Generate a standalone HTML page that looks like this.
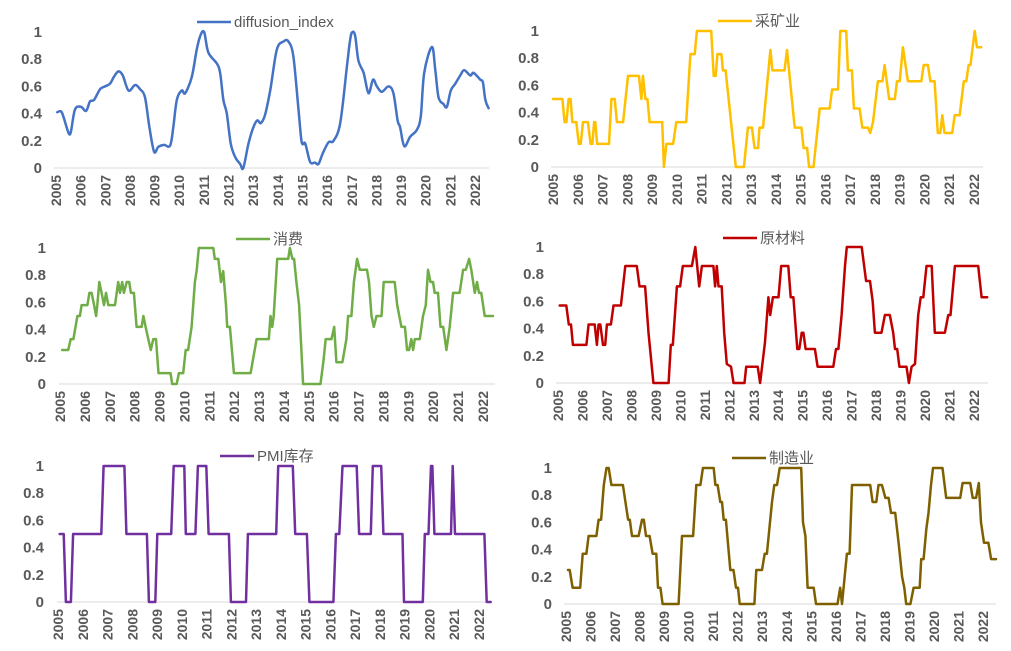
<!DOCTYPE html>
<html><head><meta charset="utf-8">
<style>
html,body{margin:0;padding:0;background:#fff;}
svg{display:block;font-family:"Liberation Sans","Noto Sans CJK SC",sans-serif;}
</style></head>
<body>
<svg id="root" width="1011" height="651" viewBox="0 0 1011 651"></svg>
<script>
// ===== data (time = years since 2005, value = index) =====
const yearTicks = [2005,2006,2007,2008,2009,2010,2011,2012,2013,2014,2015,2016,2017,2018,2019,2020,2021,2022];
const yTickValues = [0,0.2,0.4,0.6,0.8,1];
const yTickLabels = ["0","0.2","0.4","0.6","0.8","1"];
const seriesNames = ["diffusion_index","采矿业","消费","原材料","PMI库存","制造业"];

const diffT = [.05,.23,.43,.53,.61,.77,1.01,1.22,1.38,1.54,1.79,1.99,2.19,2.35,2.53,2.71,2.94,3.21,3.41,3.61,3.79,3.98,4.15,4.38,4.63,4.76,4.90,5.10,5.24,5.51,5.71,5.85,6.01,6.18,6.52,6.66,6.79,6.93,7.09,7.27,7.47,7.60,7.81,8.01,8.17,8.31,8.48,8.69,8.96,9.23,9.43,9.63,9.84,9.97,10.11,10.31,10.51,10.65,10.83,11.06,11.26,11.53,11.80,11.94,12.03,12.14,12.27,12.48,12.68,12.86,13.02,13.22,13.49,13.69,13.86,13.96,14.13,14.37,14.64,14.80,14.94,15.25,15.39,15.52,15.72,15.86,16.02,16.20,16.40,16.56,16.81,16.94,17.21,17.32,17.42,17.55];
const diffV = [.41,.41,.30,.25,.27,.43,.45,.42,.49,.50,.58,.60,.62,.67,.71,.68,.57,.61,.58,.52,.30,.12,.155,.17,.165,.30,.50,.57,.55,.67,.87,.97,1.0,.85,.77,.70,.50,.40,.18,.08,.03,0,.18,.30,.35,.33,.39,.57,.87,.93,.93,.82,.43,.19,.18,.045,.04,.03,.11,.19,.20,.33,.74,.95,1.0,.97,.79,.70,.55,.65,.60,.56,.60,.55,.35,.30,.16,.23,.28,.38,.70,.89,.72,.52,.47,.45,.57,.62,.68,.72,.68,.70,.65,.63,.50,.44];

const miningT = [0,.38,.47,.54,.63,.71,.78,.94,1.04,1.12,1.21,1.41,1.52,1.59,1.66,1.71,1.78,2.26,2.36,2.49,2.58,2.83,3.03,3.47,3.57,3.63,3.73,3.81,3.9,4.41,4.48,4.58,4.85,4.98,5.38,5.55,5.72,5.81,6.39,6.49,6.57,6.64,6.8,6.86,6.97,7.38,7.71,7.87,8.03,8.14,8.28,8.34,8.48,8.78,8.86,9.35,9.45,9.76,10.03,10.12,10.26,10.34,10.52,10.77,11.17,11.27,11.51,11.6,11.84,11.91,12.07,12.15,12.38,12.49,12.72,12.81,12.92,13.12,13.3,13.39,13.57,13.8,13.89,14.0,14.13,14.33,14.87,14.97,15.14,15.24,15.41,15.54,15.64,15.72,15.81,16.12,16.22,16.42,16.59,16.69,16.78,16.86,17.03,17.12,17.29];
const miningV = [.5,.5,.33,.33,.5,.5,.33,.33,.17,.17,.33,.33,.17,.17,.33,.33,.17,.17,.5,.5,.33,.33,.67,.67,.5,.67,.5,.5,.33,.33,0,.17,.17,.33,.33,.83,.83,1,1,.67,.67,.83,.83,.71,.71,0,0,.29,.29,.14,.14,.29,.29,.86,.71,.71,.86,.29,.29,.14,.14,0,0,.43,.43,.57,.57,1,1,.71,.71,.43,.43,.29,.29,.25,.33,.63,.63,.75,.5,.5,.63,.63,.88,.63,.63,.75,.75,.63,.63,.25,.25,.38,.25,.25,.38,.38,.63,.63,.75,.75,1,.88,.88];

const consT = [.09,.33,.43,.54,.70,.80,.87,1.10,1.18,1.27,1.37,1.45,1.50,1.58,1.67,1.77,1.85,1.94,2.21,2.34,2.41,2.50,2.57,2.68,2.78,2.85,2.97,3.08,3.28,3.35,3.44,3.55,3.65,3.75,3.86,3.96,4.44,4.51,4.69,4.78,4.95,5.05,5.15,5.29,5.42,5.49,5.58,6.16,6.22,6.36,6.47,6.56,6.67,6.72,6.83,6.99,7.66,7.90,8.39,8.46,8.53,8.59,8.73,9.17,9.24,9.34,9.41,9.50,9.61,9.77,10.47,10.58,10.68,10.91,11.02,11.11,11.35,11.51,11.58,11.71,11.81,11.94,12.05,12.34,12.42,12.52,12.61,12.72,12.92,13.01,13.45,13.55,13.72,13.86,13.95,14.03,14.12,14.19,14.26,14.46,14.59,14.70,14.79,14.89,14.99,15.06,15.19,15.29,15.40,15.53,15.66,15.80,16.06,16.20,16.31,16.44,16.53,16.67,16.76,16.84,16.93,17.07,17.40];
const consV = [.25,.25,.33,.33,.5,.5,.58,.58,.67,.67,.58,.5,.58,.75,.67,.58,.67,.58,.58,.75,.67,.75,.67,.75,.75,.67,.67,.42,.42,.5,.42,.33,.25,.33,.33,.08,.08,0,0,.08,.08,.25,.25,.42,.75,.83,1,1,.92,.92,.75,.83,.58,.42,.42,.08,.08,.33,.33,.5,.42,.5,.92,.92,1,.92,.92,.75,.58,0,0,.16,.33,.33,.42,.16,.16,.33,.5,.5,.75,.92,.84,.84,.75,.5,.42,.5,.5,.75,.75,.58,.42,.42,.25,.25,.33,.25,.33,.33,.5,.58,.84,.75,.75,.67,.67,.42,.42,.25,.42,.67,.67,.84,.84,.92,.84,.67,.75,.67,.67,.5,.5];

const rawT = [.07,.34,.44,.53,.61,1.16,1.25,1.50,1.59,1.66,1.73,1.84,1.93,2.00,2.16,2.27,2.57,2.75,3.22,3.33,3.56,3.70,3.90,4.52,4.61,4.69,4.86,4.99,5.10,5.47,5.61,5.77,5.88,6.35,6.42,6.49,6.56,6.69,6.79,6.90,7.07,7.17,7.62,7.69,8.16,8.26,8.46,8.60,8.67,8.78,9.01,9.12,9.41,9.51,9.62,9.78,9.86,9.96,10.03,10.12,10.50,10.61,11.25,11.36,11.46,11.59,11.73,11.80,12.41,12.59,12.75,12.86,12.95,13.22,13.36,13.56,13.70,13.77,13.86,13.95,14.24,14.34,14.45,14.59,14.72,14.82,14.93,15.06,15.27,15.40,15.81,15.95,16.04,16.22,17.17,17.31,17.54];
const rawV = [.57,.57,.43,.43,.28,.28,.43,.43,.28,.43,.43,.28,.28,.43,.43,.57,.57,.86,.86,.71,.71,.37,0,0,.28,.28,.71,.71,.86,.86,1,.71,.86,.86,.71,.86,.71,.71,.37,.14,.12,0,0,.12,.12,0,.3,.63,.5,.63,.63,.86,.86,.63,.63,.25,.25,.37,.37,.25,.25,.12,.12,.25,.25,.5,.86,1,1,.75,.75,.6,.37,.37,.5,.5,.37,.25,.25,.12,.12,0,.12,.14,.5,.63,.63,.86,.86,.37,.37,.5,.5,.86,.86,.63,.63];

const pmiT = [.07,.23,.32,.52,.61,1.75,1.84,2.68,2.76,3.59,3.67,3.93,4.01,4.57,4.67,5.10,5.16,5.55,5.65,5.99,6.08,6.90,6.98,7.59,7.67,8.81,8.89,9.48,9.58,10.05,10.15,11.12,11.22,11.36,11.49,12.06,12.16,12.63,12.71,13.05,13.14,13.91,13.97,14.73,14.81,14.96,15.06,15.12,15.20,15.87,15.94,16.03,17.22,17.31,17.47];
const pmiV = [.5,.5,0,0,.5,.5,1,1,.5,.5,0,0,.5,.5,1,1,.5,.5,1,1,.5,.5,0,0,.5,.5,1,1,.5,.5,0,0,.5,.5,1,1,.5,.5,1,1,.5,.5,0,0,.5,.5,1,1,.5,.5,1,.5,.5,0,0];

const mfgT = [.08,.15,.27,.58,.68,.83,.92,1.24,1.33,1.43,1.54,1.65,1.74,1.85,2.32,2.53,2.60,2.69,2.96,3.10,3.17,3.26,3.41,3.53,3.68,3.75,3.85,3.94,4.59,4.73,5.18,5.31,5.48,5.58,6.02,6.09,6.18,6.29,6.36,6.43,6.52,6.70,6.83,6.93,7.01,7.08,7.68,7.76,7.99,8.10,8.19,8.40,8.49,8.60,8.71,9.59,9.66,9.76,9.85,10.10,10.19,11.07,11.18,11.25,11.45,11.56,11.66,12.40,12.50,12.65,12.74,12.88,13.02,13.15,13.25,13.42,13.56,13.70,13.79,13.87,14.04,14.17,14.42,14.48,14.58,14.69,14.78,14.88,14.96,15.35,15.50,16.07,16.17,16.48,16.58,16.72,16.83,16.92,17.04,17.22,17.33,17.53];
const mfgV = [.25,.25,.12,.12,.37,.37,.5,.5,.62,.62,.875,1,1,.875,.875,.62,.62,.5,.5,.62,.62,.5,.5,.37,.37,.12,.12,0,0,.5,.5,.875,.875,1,1,.875,.875,.75,.75,.62,.62,.25,.25,.12,.12,0,0,.25,.25,.37,.37,.75,.875,.875,1,1,.6,.5,.12,.12,0,0,.12,0,.37,.37,.875,.875,.75,.75,.875,.875,.78,.78,.67,.67,.45,.2,.12,0,0,.12,.12,.33,.33,.55,.67,.875,1,1,.78,.78,.89,.89,.78,.78,.89,.6,.45,.45,.33,.33];

// ===== layout (not data) =====
const panels = [
 {name:"diffusion-index-panel",T:diffT,V:diffV,label:seriesNames[0],color:"#4472C4",x0:56,x1:475,yTop:32,yBot:168,ax0:54,ax1:489,lx:197,ly:22,smooth:true},
 {name:"mining-panel",T:miningT,V:miningV,label:seriesNames[1],color:"#FFC000",x0:553,x1:974,yTop:31,yBot:167,ax0:551,ax1:983,lx:718,ly:21},
 {name:"consumption-panel",T:consT,V:consV,label:seriesNames[2],color:"#70AD47",x0:60,x1:483,yTop:248,yBot:384,ax0:59,ax1:495,lx:236,ly:239},
 {name:"raw-materials-panel",T:rawT,V:rawV,label:seriesNames[3],color:"#C00000",x0:558,x1:974,yTop:247,yBot:383,ax0:556,ax1:988,lx:723,ly:238},
 {name:"pmi-inventory-panel",T:pmiT,V:pmiV,label:seriesNames[4],color:"#7030A0",x0:58,x1:479,yTop:466,yBot:602,ax0:57,ax1:492,lx:220,ly:456},
 {name:"manufacturing-panel",T:mfgT,V:mfgV,label:seriesNames[5],color:"#7F6000",x0:566,x1:983,yTop:468,yBot:604,ax0:564,ax1:996,lx:732,ly:458}
];
const NS="http://www.w3.org/2000/svg";
const root=document.getElementById('root');
function mk(tag,attrs,parent){const e=document.createElementNS(NS,tag);for(const k in attrs)e.setAttribute(k,attrs[k]);parent.appendChild(e);return e;}

panels.forEach(p=>{
  const g=mk('g',{},root);
  
  
  const xs=y=>p.x0+(y-2005)*(p.x1-p.x0)/17;
  const ys=v=>p.yBot-v*(p.yBot-p.yTop);
  const ax=mk('line',{x1:p.ax0,x2:p.ax1,y1:p.yBot,y2:p.yBot,stroke:"#d9d9d9","stroke-width":1},g);
  
  
  yTickValues.forEach((v,i)=>{
    const t=mk('text',{x:p.x0-14,y:ys(v)+5,"text-anchor":"end","font-size":15,"font-weight":"bold",fill:"#595959"},g);
    t.textContent=yTickLabels[i];
    
    
  });
  yearTicks.forEach(yr=>{
    const x=xs(yr);
    const t=mk('text',{x:0,y:0,"text-anchor":"end","font-size":14,"font-weight":"bold",fill:"#595959",transform:`translate(${x+5},${p.yBot+7}) rotate(-90)`},g);
    t.textContent=String(yr);
    
    
  });
  const pts=p.T.map((t,i)=>[xs(2005+t),ys(p.V[i])]);
  let d;
  if(p.smooth){
    d=`M${pts[0][0]},${pts[0][1]}`;
    for(let i=0;i<pts.length-1;i++){
      const p0=pts[Math.max(0,i-1)],p1=pts[i],p2=pts[i+1],p3=pts[Math.min(pts.length-1,i+2)];
      const c1=[p1[0]+(p2[0]-p0[0])/6,p1[1]+(p2[1]-p0[1])/6];
      const c2=[p2[0]-(p3[0]-p1[0])/6,p2[1]-(p3[1]-p1[1])/6];
      d+=` C${c1[0].toFixed(1)},${c1[1].toFixed(1)} ${c2[0].toFixed(1)},${c2[1].toFixed(1)} ${p2[0].toFixed(1)},${p2[1].toFixed(1)}`;
    }
  } else {
    d='M'+pts.map(q=>q[0].toFixed(1)+','+q[1].toFixed(1)).join(' L');
  }
  const path=mk('path',{d:d,fill:"none",stroke:p.color,"stroke-width":2.5,"stroke-linejoin":"round","stroke-linecap":"round"},g);
  
  
  const lg=mk('g',{},g);
  
  
  mk('line',{x1:p.lx,x2:p.lx+34,y1:p.ly,y2:p.ly,stroke:p.color,"stroke-width":2.5},lg);
  const lt=mk('text',{x:p.lx+37,y:p.ly+5,"font-size":15,fill:"#595959"},lg);
  lt.textContent=p.label;
});
</script>
</body></html>
